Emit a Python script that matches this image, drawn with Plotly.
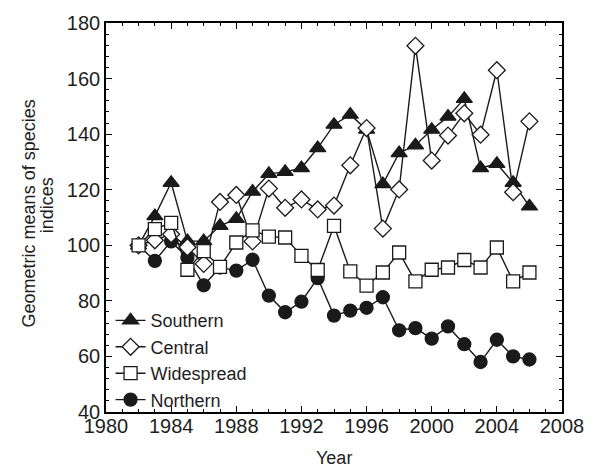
import plotly.graph_objects as go

years = list(range(1982, 2007))
southern = [100, 110.5, 122.5, 101.5, 101.5, 107, 109.5, 119.3, 125.7, 126.4, 127.8, 135, 143.4,
            147, 141.6, 122, 133.2, 136, 141.6, 146.3, 152.7, 127.8, 129.3, 122.5, 114]
central = [100, 101.8, 104, 99.3, 93.3, 115.6, 118.1, 101.4, 120.4, 113.5, 116.5, 112.9, 114.3,
           128.8, 142.2, 106, 120.1, 171.8, 130.5, 139.5, 147.5, 139.8, 163, 119.1, 144.6]
widespread = [100, 105.8, 108.1, 91.2, 97.9, 92.2, 101, 105.4, 103.1, 102.8, 96.2, 91.1, 107,
              90.6, 85.5, 90.2, 97.4, 87, 91.2, 92, 94.7, 92, 99.2, 87, 90.2]
northern = [100, 94.4, 101.4, 95.5, 85.6, 92, 90.9, 94.8, 81.9, 75.9, 79.7, 88.2, 74.7,
            76.5, 77.5, 81.3, 69.4, 70.2, 66.4, 70.8, 64.4, 58, 66, 60, 58.9]

x_ticks = [1980, 1984, 1988, 1992, 1996, 2000, 2004, 2008]
y_ticks = [40, 60, 80, 100, 120, 140, 160, 180]
y_title_lines = ["Geometric means of species", "indices"]

FONT = "Liberation Sans, Arial, sans-serif"
LINE = "#1a1a1a"
TXT = "#1e1e1e"

fig = go.Figure()

# drawn bottom-to-top; legend order fixed with legendrank
series = [
    ("Northern", northern, "circle", LINE, 13, 4),
    ("Southern", southern, "triangle-up", LINE, 14, 1),
    ("Central", central, "diamond", "white", 13, 2),
    ("Widespread", widespread, "square", "white", 13, 3),
]
for name, vals, sym, fill, size, rank in series:
    fig.add_trace(go.Scatter(
        x=years, y=vals, name=name, mode="lines+markers", legendrank=rank,
        line=dict(color=LINE, width=1.4),
        marker=dict(symbol=sym, size=size, color=fill, line=dict(color=LINE, width=1.3)),
    ))

axis_common = dict(
    showline=True, linecolor="black", linewidth=1.6, mirror="allticks",
    ticks="inside", ticklen=6, tickwidth=1.3, tickcolor="black",
    showgrid=False, zeroline=False,
    tickfont=dict(family=FONT, size=20, color=TXT),
)

fig.update_xaxes(
    range=[1980, 2008], tickvals=x_ticks, ticktext=[str(v) for v in x_ticks],
    minor=dict(dtick=1, tick0=1980, ticks="inside", ticklen=3, tickcolor="black", tickwidth=1),
    ticklabelstandoff=-5,
    **axis_common,
)
fig.update_yaxes(
    range=[40, 180], tickvals=y_ticks, ticktext=[str(v) for v in y_ticks],
    minor=dict(dtick=4, tick0=40, ticks="inside", ticklen=3, tickcolor="black", tickwidth=1),
    **axis_common,
)

for txt, xp, yp in [(y_title_lines[0], -0.168, 0.5115), (y_title_lines[1], -0.129, 0.532)]:
    fig.add_annotation(
        text=txt, textangle=-90,
        xref="paper", yref="paper", x=xp, y=yp, xanchor="center", yanchor="middle",
        showarrow=False, font=dict(family=FONT, size=18, color=TXT),
    )
fig.add_annotation(
    text="Year", xref="paper", yref="paper", x=0.5, y=-0.118,
    xanchor="center", yanchor="middle", showarrow=False,
    font=dict(family=FONT, size=18, color=TXT),
)

fig.update_layout(
    width=596, height=469,
    margin=dict(l=106, r=26, t=21, b=57),
    paper_bgcolor="white", plot_bgcolor="white",
    font=dict(family=FONT, size=18, color=TXT),
    showlegend=True,
    legend=dict(
        x=0.01, y=-0.016, xanchor="left", yanchor="bottom",
        bgcolor="rgba(0,0,0,0)", borderwidth=0,
        font=dict(family=FONT, size=18, color=TXT),
        itemsizing="trace", tracegroupgap=0,
    ),
)

fig.write_html("out.html")
